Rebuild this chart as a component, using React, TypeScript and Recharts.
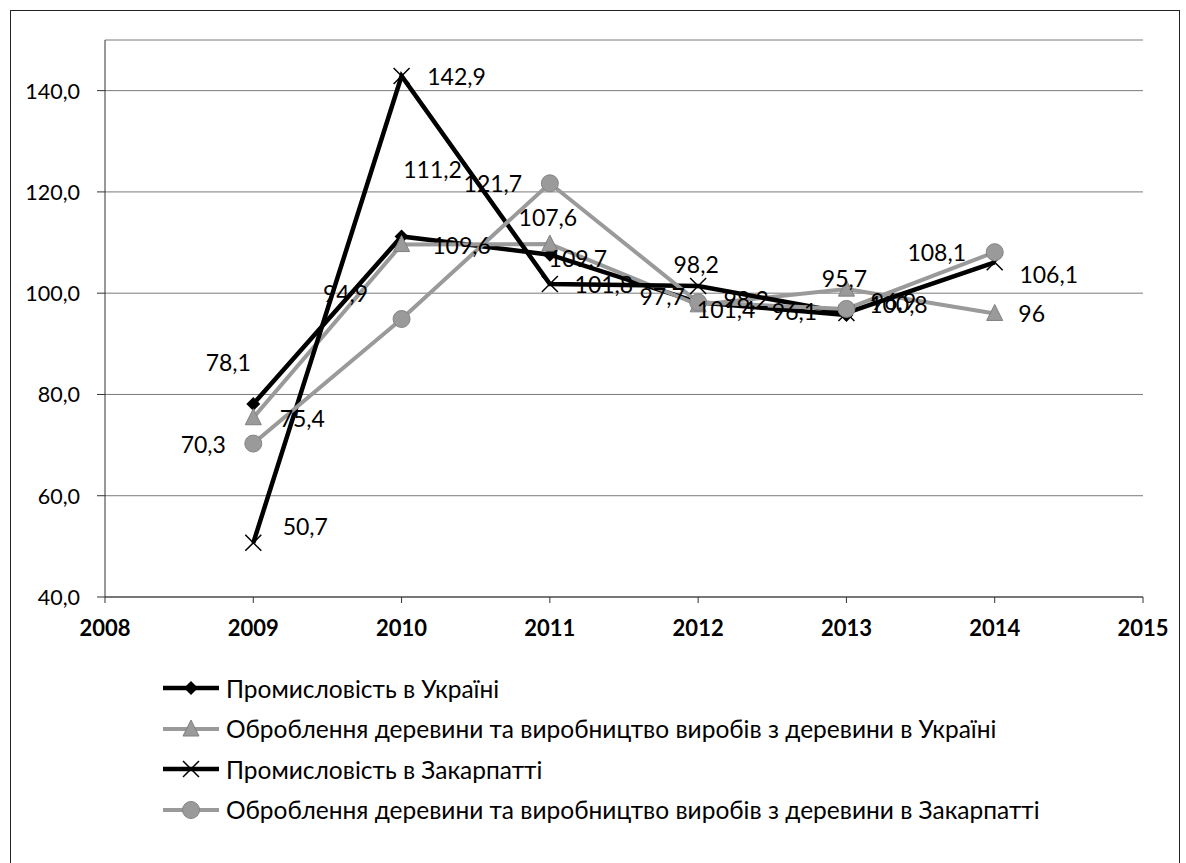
import React from 'react';
import { LineChart, Line, XAxis, YAxis, CartesianGrid, LabelList } from 'recharts';

const years = [2009, 2010, 2011, 2012, 2013, 2014];
const ukraineIndustry = [78.1, 111.2, 107.6, 98.2, 95.7, null];
const ukraineWood = [75.4, 109.6, 109.7, 97.7, 100.8, 96];
const zakarpattiaIndustry = [50.7, 142.9, 101.8, 101.4, 96.1, 106.1];
const zakarpattiaWood = [70.3, 94.9, 121.7, 98.2, 96.9, 108.1];
const xTicks = [2008, 2009, 2010, 2011, 2012, 2013, 2014, 2015];
const yTicks = [40, 60, 80, 100, 120, 140];
const seriesNames = [
  'Промисловість в Україні',
  'Оброблення деревини та виробництво виробів з деревини в Україні',
  'Промисловість в Закарпатті',
  'Оброблення деревини та виробництво виробів з деревини в Закарпатті',
];

const data = years.map((year, i) => ({
  year,
  s1: ukraineIndustry[i],
  s2: ukraineWood[i],
  s3: zakarpattiaIndustry[i],
  s4: zakarpattiaWood[i],
}));

// label placement offsets (relative to point), per series
const labelOffsets: Record<string, number[][]> = {
  s1: [[-25, -42], [31, -67], [-2, -38], [-2, -38], [-2, -37], [0, 0]],
  s2: [[49, 0], [60, 0], [28, 14], [-36, -9], [52, 15], [37, 0]],
  s3: [[52, -17], [55, 0], [54, 0], [28, 23], [-52, -2], [54, 12]],
  s4: [[-50, 0], [-56, -26], [-57, 0], [48, -3], [47, -8], [-58, 0]],
};

const FONT = 'Lato, "Open Sans", sans-serif';
const GRAY = '#9a9a9a';

const fmt = (v: number) => String(v).replace('.', ',');

const Diamond = (x: number, y: number, key?: any) => (
  <polygon key={key} points={`${x},${y - 7} ${x + 7},${y} ${x},${y + 7} ${x - 7},${y}`} fill="#000" />
);
const Triangle = (x: number, y: number, key?: any) => (
  <polygon key={key} points={`${x},${y - 9} ${x + 8},${y + 7} ${x - 8},${y + 7}`} fill={GRAY} stroke="#808080" strokeWidth={1} />
);
const Cross = (x: number, y: number, key?: any) => (
  <g key={key}>
    <line x1={x - 8} y1={y - 8} x2={x + 8} y2={y + 8} stroke="#000" strokeWidth={1.5} />
    <line x1={x - 8} y1={y + 8} x2={x + 8} y2={y - 8} stroke="#000" strokeWidth={1.5} />
  </g>
);
const Circle = (x: number, y: number, key?: any) => (
  <circle key={key} cx={x} cy={y} r={8.5} fill={GRAY} stroke="#858585" strokeWidth={1} />
);

const markers = [Diamond, Triangle, Cross, Circle];

const makeDot = (fn: any) => (props: any) => {
  const { cx, cy, index, value } = props;
  if (value == null || cx == null || cy == null) return <g key={index} />;
  return fn(cx, cy, index);
};

const makeLabel = (key: string) => (props: any) => {
  const { x, y, value, index } = props;
  if (value == null) return null;
  const [dx, dy] = labelOffsets[key][index] || [0, 0];
  return (
    <text
      key={index}
      x={x + dx}
      y={y + dy}
      textAnchor="middle"
      dominantBaseline="central"
      fontFamily={FONT}
      fontSize={23}
      fill="#000"
    >
      {fmt(value)}
    </text>
  );
};

const XTick = (props: any) => {
  const { x, y, payload } = props;
  return (
    <text x={x} y={y + 31} textAnchor="middle" fontFamily={FONT} fontWeight="bold" fontSize={22} fill="#000">
      {payload.value}
    </text>
  );
};

const YTick = (props: any) => {
  const { y, payload } = props;
  return (
    <text x={80} y={y} textAnchor="end" dominantBaseline="central" fontFamily={FONT} fontSize={21.5} fill="#000">
      {fmt(payload.value) + ',0'}
    </text>
  );
};

const seriesStyle = [
  { key: 's1', color: '#000', width: 4.5 },
  { key: 's2', color: GRAY, width: 4 },
  { key: 's3', color: '#000', width: 4.5 },
  { key: 's4', color: GRAY, width: 4 },
];

const LegendBlock = () => (
  <div style={{ position: 'absolute', left: 163, top: 668, fontFamily: FONT, fontSize: 24.5, color: '#000' }}>
    {seriesNames.map((name, i) => (
      <div key={name} style={{ display: 'flex', alignItems: 'center', height: 40.5 }}>
        <svg width={58} height={24} style={{ display: 'block' }}>
          <line x1={0} y1={12} x2={56} y2={12} stroke={seriesStyle[i].color} strokeWidth={seriesStyle[i].width} />
          {markers[i](28, 12)}
        </svg>
        <span style={{ marginLeft: 5, whiteSpace: 'nowrap' }}>{name}</span>
      </div>
    ))}
  </div>
);

export default function App() {
  return (
    <div style={{ position: 'absolute', left: 0, top: 0, width: 1186, height: 863, background: '#fff', overflow: 'hidden' }}>
      <div
        style={{
          position: 'absolute',
          left: 10,
          top: 10,
          width: 1170,
          height: 870,
          border: '1.5px solid #222',
          boxSizing: 'border-box',
        }}
      />
      <div style={{ position: 'absolute', left: 0, top: 0 }}>
        <LineChart
          width={1186}
          height={863}
          data={data}
          margin={{ top: 40, right: 43, left: 10, bottom: 226 }}
        >
          <CartesianGrid vertical={false} stroke="#7a7a7a" strokeWidth={1} />
          <XAxis
            dataKey="year"
            type="number"
            domain={[2008, 2015]}
            ticks={xTicks}
            interval={0}
            tick={<XTick />}
            tickSize={6}
            axisLine={{ stroke: '#333', strokeWidth: 1 }}
            tickLine={{ stroke: '#333' }}
            height={40}
          />
          <YAxis
            type="number"
            domain={[40, 150]}
            ticks={yTicks}
            interval={0}
            tick={<YTick />}
            tickSize={8}
            width={95}
            axisLine={{ stroke: '#333', strokeWidth: 1 }}
            tickLine={{ stroke: '#333' }}
          />
          {seriesStyle.map((s, i) => (
            <Line
              key={s.key}
              dataKey={s.key}
              name={seriesNames[i]}
              stroke={s.color}
              strokeWidth={s.width}
              dot={makeDot(markers[i])}
              activeDot={false}
              isAnimationActive={false}
              connectNulls={false}
            >
              <LabelList dataKey={s.key} content={makeLabel(s.key)} />
            </Line>
          ))}
        </LineChart>
      </div>
      <LegendBlock />
    </div>
  );
}
